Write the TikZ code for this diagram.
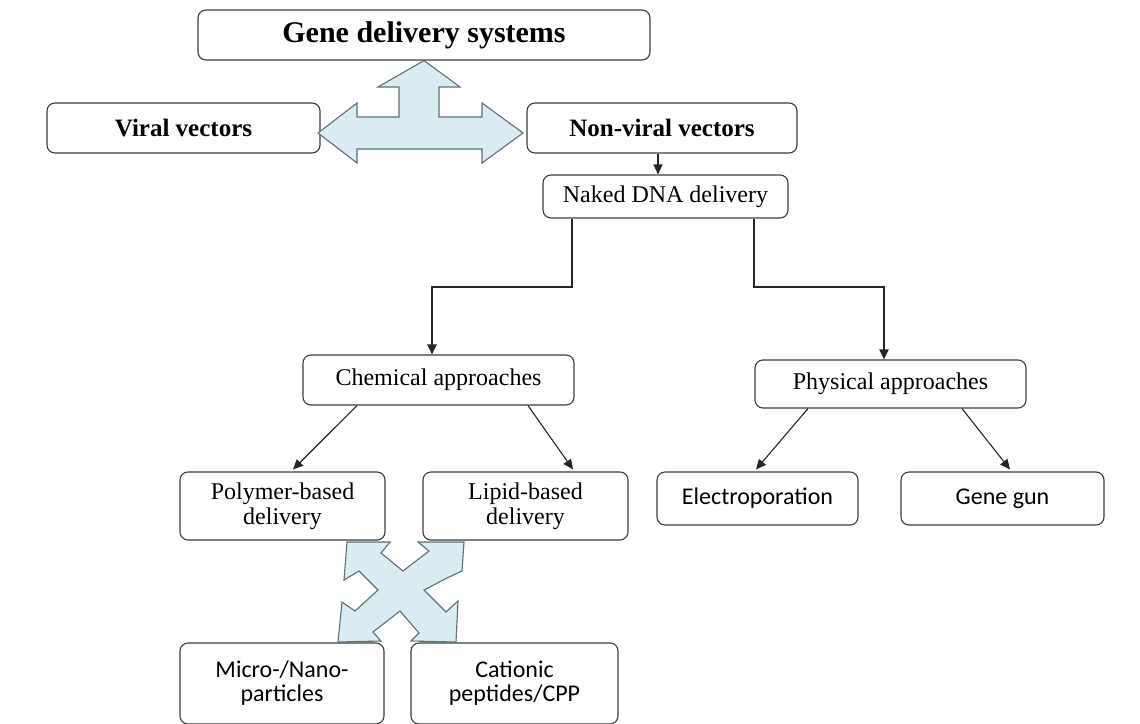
\documentclass[tikz,border=0pt]{standalone}
\usepackage{fontspec}
\setmainfont{Liberation Serif}
\newfontfamily\calibrifont{Carlito}
\usetikzlibrary{arrows.meta}
\definecolor{boxline}{HTML}{3C3C3C}
\definecolor{arrfill}{HTML}{DAEBF2}
\definecolor{arrline}{HTML}{5F6F78}
\begin{document}
\begin{tikzpicture}[x=1pt,y=-1pt,
    box/.style={draw=boxline,line width=1.1pt,rounded corners=8pt,align=center,
      inner sep=0pt,font=\fontsize{24}{25}\selectfont},
    hbox/.style={box,font=\fontsize{25}{27}\selectfont\bfseries},
    sbox/.style={box,font=\calibrifont\fontsize{24}{24}\selectfont},
    arr/.style={-{Triangle[length=10pt,width=9pt]},line width=1.1pt,black!85},
    thickarr/.style={arr,line width=2pt},
    blockarr/.style={fill=arrfill,draw=arrline,line width=1.1pt,line join=miter}]
    \useasboundingbox(0,0)rectangle(1140,723);
    % nodes
    \node[hbox,minimum width=452pt,minimum height=50pt,font=\fontsize{30}{32}\selectfont\bfseries](gds)at(424,35){Gene delivery systems};
    \node[hbox,minimum width=273pt,minimum height=50pt](viral)at(183.5,128){Viral vectors};
    \node[hbox,minimum width=270pt,minimum height=50pt](nonviral)at(662,128){Non-viral vectors};
    \node[box,minimum width=245pt,minimum height=43pt](naked)at(665.5,196.5){Naked DNA delivery};
    \node[box,minimum width=271pt,minimum height=50pt](chem)at(438.5,380){Chemical approaches};
    \node[box,minimum width=271pt,minimum height=48pt](phys)at(890.5,384){Physical approaches};
    \node[box,minimum width=205pt,minimum height=68pt](poly)at(282.5,506){Polymer-based\\delivery};
    \node[box,minimum width=205pt,minimum height=68pt](lipid)at(525.5,506){Lipid-based\\delivery};
    \node[sbox,minimum width=201pt,minimum height=53pt](electro)at(757.5,498.5){Electroporation};
    \node[sbox,minimum width=203pt,minimum height=53pt](gun)at(1002.5,498.5){Gene gun};
    \node[sbox,minimum width=204pt,minimum height=81pt](micro)at(282,683.5){Micro-/Nano-\\particles};
    \node[sbox,minimum width=207pt,minimum height=81pt](cpp)at(514.5,683.5){Cationic\\peptides/CPP};
    % block arrows
    \draw[blockarr](gds.south)--(460,87)--(439,87)--(439,117)--(482,117)--(482,103)--(523,133)
      --(482,163)--(482,149)--(357,149)--(357,163)--(318,133)--(357,103)--(357,117)
      --(399,117)--(399,87)--(378,87)--cycle;
    \draw[blockarr](347,542)--(390,542)--(381,553)--(403,571)--(429,551)--(418,542)--(464,542)
      --(462,571)--(447,578)--(424,590)--(446,612)--(458,601)--(456,642)--(411,641)--(419,633)
      --(400,611)--(373,632)--(381,641)--(338,642)--(342,602)--(355,611)--(378,590)--(359,571)
      --(344,580)--cycle;
    % connectors
    \draw[arr](nonviral.south-|658,0)--(naked.north-|658,0);
    \draw[thickarr](naked.south-|572,0)--(572,287)-|([xshift=-6.5pt]chem.north);
    \draw[thickarr](naked.south-|754,0)--(754,287)-|([xshift=-6.5pt]phys.north);
    \draw[arr]([xshift=-81.5pt]chem.south)--([xshift=10.5pt,yshift=2pt]poly.north);
    \draw[arr]([xshift=89.5pt]chem.south)--([xshift=47.5pt,yshift=2pt]lipid.north);
    \draw[arr]([xshift=-82.5pt]phys.south)--([xshift=-1.5pt,yshift=2pt]electro.north);
    \draw[arr]([xshift=71.5pt]phys.south)--([xshift=7.5pt,yshift=2pt]gun.north);
\end{tikzpicture}
\end{document}
